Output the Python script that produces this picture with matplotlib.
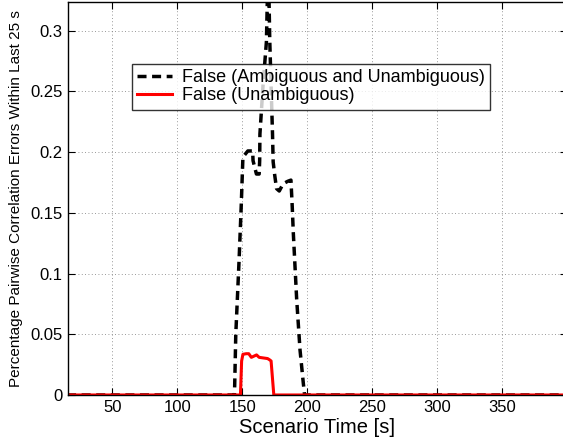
import matplotlib
matplotlib.use('Agg')
import matplotlib.pyplot as plt
import numpy as np

plt.rcParams['font.family'] = ['Liberation Sans', 'DejaVu Sans']

# valores
t_amb = [15, 144.0, 145.0, 147.5, 149.2, 150.5, 154.3, 158.0, 158.3, 160.9,
         163.0, 163.4, 163.6, 166.0, 168.6, 170.0, 171.2, 173.3, 173.8, 175.0,
         176.4, 178.5, 181.5, 185.0, 187.5, 188.5, 189.3, 191.9, 194.5, 197.0,
         198.0, 400]
err_amb = [0, 0, 0.05, 0.11, 0.156, 0.196, 0.201, 0.201, 0.193, 0.182,
           0.182, 0.193, 0.215, 0.255, 0.291, 0.36, 0.291, 0.215, 0.192, 0.181,
           0.170, 0.168, 0.174, 0.176, 0.177, 0.155, 0.134, 0.079, 0.037, 0.010,
           0, 0]

t_unamb = [15, 148.6, 149.5, 150.5, 153.0, 155.0, 157.0, 159.0, 161.0, 163.0,
           169.5, 171.0, 172.2, 174.3, 400]
err_unamb = [0, 0, 0.028, 0.0335, 0.034, 0.034, 0.031, 0.032, 0.033, 0.031,
             0.030, 0.029, 0.028, 0, 0]

xticks = [50, 100, 150, 200, 250, 300, 350]
yticks = [0, 0.05, 0.1, 0.15, 0.2, 0.25, 0.3]
ytick_labels = ['0', '0.05', '0.1', '0.15', '0.2', '0.25', '0.3']

fig = plt.figure(figsize=(5.63, 4.44), dpi=100)
ax = fig.add_axes([0.12, 0.1104, 0.8867, 0.884])

ax.plot(t_amb, err_amb, color='black', lw=2.5, ls=(0, (2.6, 1.6)),
        label='False (Ambiguous and Unambiguous)')
ax.plot(t_unamb, err_unamb, color='red', lw=2.2,
        label='False (Unambiguous)')

ax.set_xlim(15.4, 400)
ax.set_ylim(0, 0.3233)
ax.set_xticks(xticks)
ax.set_yticks(yticks)
ax.set_yticklabels(ytick_labels)
ax.tick_params(direction='in', length=5, labelsize=12, top=True, right=True,
               width=0.8)
ax.grid(True, ls=(0, (1, 3)), color='#777777', lw=0.6)
for s in ax.spines.values():
    s.set_linewidth(1.0)

ax.set_xlabel('Scenario Time [s]', fontsize=14.5, labelpad=2)
ax.set_ylabel('Percentage Pairwise Correlation Errors Within Last 25 s',
              fontsize=11, labelpad=5)

leg = ax.legend(loc='upper left', bbox_to_anchor=(132 / 563, 1 - 64 / 444),
                bbox_transform=fig.transFigure, fontsize=13, frameon=True,
                fancybox=False, borderaxespad=0, borderpad=0.3,
                labelspacing=0.05, handletextpad=0.55, handlelength=1.9)
leg.get_frame().set_edgecolor('black')
leg.get_frame().set_linewidth(1.0)

fig.savefig('out.png', dpi=100)
